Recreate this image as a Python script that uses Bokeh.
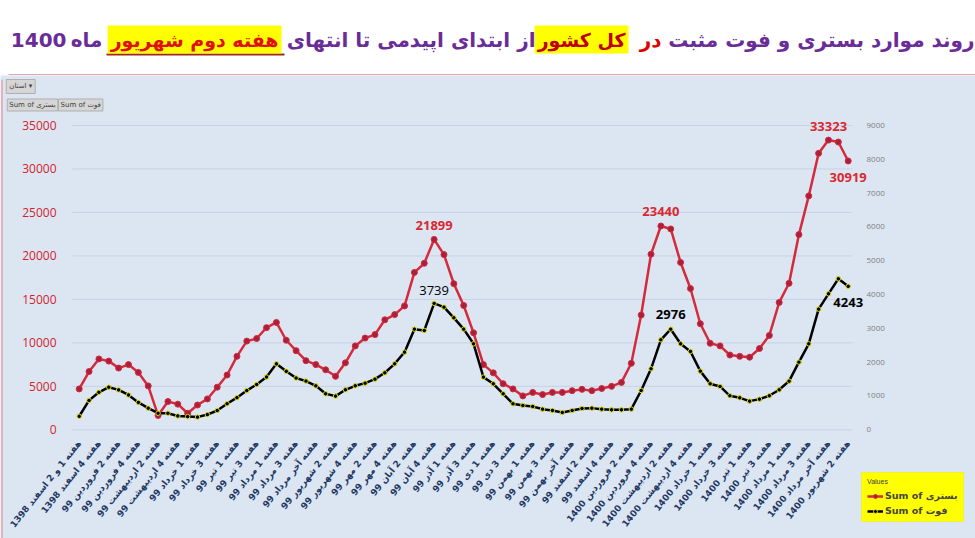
from bokeh.plotting import figure
from bokeh.models import Range1d, LinearAxis, FixedTicker, Label, Legend, LegendItem, AllLabels
from bokeh.layouts import column
from bokeh.embed import file_html
from bokeh.resources import INLINE

# ---------------- data ----------------
weeks = list(range(79))
hospitalized = [4700, 6700, 8150, 7900, 7100, 7500, 6600, 5050, 1650, 3250,
                2950, 1900, 2850, 3550, 4900, 6300, 8450, 10200, 10500, 11750,
                12350, 10300, 9100, 7950, 7500, 6900, 6150, 7700, 9650, 10550,
                10950, 12650, 13250, 14250, 18100, 19150, 21899, 20150, 16800, 14300,
                11150, 7500, 6550, 5300, 4700, 3900, 4300, 4050, 4300, 4300,
                4500, 4650, 4500, 4750, 5000, 5450, 7650, 13200, 20200, 23440,
                23100, 19250, 16250, 12200, 9950, 9650, 8600, 8450, 8350, 9350,
                10850, 14650, 16850, 22450, 26900, 31800, 33323, 33100, 30919]
deaths = [400, 870, 1110, 1260, 1180, 1030, 810, 640, 490, 490,
          410, 390, 375, 450, 570, 770, 950, 1160, 1340, 1560,
          1950, 1730, 1530, 1440, 1300, 1065, 996, 1183, 1301, 1380,
          1498, 1686, 1952, 2297, 2977, 2938, 3739, 3628, 3312, 2977,
          2543, 1558, 1360, 1065, 769, 720, 690, 611, 572, 513,
          572, 631, 641, 611, 591, 591, 611, 1163, 1804, 2662,
          2976, 2543, 2317, 1735, 1360, 1282, 1006, 946, 848, 907,
          1006, 1183, 1439, 2001, 2543, 3569, 4022, 4466, 4243]
tick_idx = list(range(0, 79, 2))
tick_labels = [
    "هفته 1 و 2 اسفند 1398", "هفته 4 اسفند 1398", "هفته 2 فروردین 99", "هفته 4 فروردین 99",
    "هفته 2 اردیبهشت 99", "هفته 4 اردیبهشت 99", "هفته 1 خرداد 99", "هفته 3 خرداد 99",
    "هفته 1 تیر 99", "هفته 3 تیر 99", "هفته 1 مرداد 99", "هفته 3 مرداد 99",
    "هفته آخر مرداد 99", "هفته 2 شهریور 99", "هفته 4 شهریور 99", "هفته 2 مهر 99",
    "هفته 4 مهر 99", "هفته 2 آبان 99", "هفته 4 آبان 99", "هفته 1 آذر 99",
    "هفته 3 آذر 99", "هفته 1 دی 99", "هفته 3 دی 99", "هفته 1 بهمن 99",
    "هفته 3 بهمن 99", "هفته آخر بهمن 99", "هفته 2 اسفند 99", "هفته 4 اسفند 99",
    "هفته 2 فروردین 1400", "هفته 4 فروردین 1400", "هفته 2 اردیبهشت 1400", "هفته 4 اردیبهشت 1400",
    "هفته 1 خرداد 1400", "هفته 3 خرداد 1400", "هفته 1 تیر 1400", "هفته 3 تیر 1400",
    "هفته 1 مرداد 1400", "هفته 3 مرداد 1400", "هفته آخر مرداد 1400", "هفته 2 شهریور 1400",
]
left_ticks = [0, 5000, 10000, 15000, 20000, 25000, 30000, 35000]
right_ticks = [0, 1000, 2000, 3000, 4000, 5000, 6000, 7000, 8000, 9000]
# annotated points: (index, offset px)
hosp_notes = [(36, 14), (59, 15), (76, 14), (78, -17)]
death_notes = [(36, 13, "normal"), (60, 15, "bold"), (78, -16, "bold")]

BG = "#DCE6F2"
PURPLE = "#6A2C97"
RED = "#D42A3C"
AR_FONT = "DejaVu Sans"

# ---------------- title strip ----------------
t = figure(width=975, height=75, x_range=Range1d(0, 975), y_range=Range1d(0, 75),
           output_backend="svg", toolbar_location=None, min_border=0,
           x_axis_type=None, y_axis_type=None, background_fill_color="white",
           border_fill_color="white", outline_line_color=None)
segs = [
    ("روند موارد بستری و فوت مثبت", 974, PURPLE, None, "20px"),
    ("در", 661, "#E00000", None, "20px"),
    ("کل کشور", 628, "#C00000", "#FFFF00", "19px"),
    ("از ابتدای اپیدمی تا انتهای", 535, PURPLE, None, "20px"),
    ("هفته دوم شهریور", 281, "#E01010", "#FFFF00", "19px"),
    ("ماه", 102, PURPLE, None, "20px"),
    ("1400", 66, PURPLE, None, "20px"),
]
for txt, xr, col, bg, fs in segs:
    lab = Label(x=xr, y=36, text=txt, text_align="right", text_baseline="middle",
                text_color=col, text_font=AR_FONT, text_font_style="bold",
                text_font_size=fs)
    if bg:
        lab.background_fill_color = bg
        lab.padding = 3
    t.add_layout(lab)
t.segment(x0=[106], y0=[21], x1=[284], y1=[21], line_color="#A02818", line_width=2)
t.segment(x0=[8], y0=[0.8], x1=[975], y1=[0.8], line_color="#E3A3AB", line_width=1.5)

# ---------------- chart (frame = whole chart area) ----------------
kx = 769 / 78            # px per week
ky = 35000 / 304.3       # value per px
x_start = -78.7 / kx
y_start = -(463 - 354.3) * ky
y_end = 354.3 * ky
p = figure(width=975, height=463,
           x_range=Range1d(x_start, x_start + 975 / kx),
           y_range=Range1d(y_start, y_end),
           output_backend="svg", toolbar_location=None, min_border=0,
           background_fill_color=BG, border_fill_color=BG, outline_line_color=None)
p.extra_y_ranges = {"right": Range1d(y_start * 9000 / 35000, y_end * 9000 / 35000)}
x_left, x_right = -0.68, 78.44   # plot-area edges in week units

xa = p.xaxis[0]
xa.fixed_location = 0
xa.ticker = FixedTicker(ticks=tick_idx)
xa.major_label_overrides = {i: s for i, s in zip(tick_idx, tick_labels)}
xa.major_label_orientation = 0.9
xa.major_label_policy = AllLabels()
xa.major_label_text_font = AR_FONT
xa.major_label_text_font_style = "bold"
xa.major_label_text_font_size = "9px"
xa.major_label_text_color = "#1F3864"
xa.major_label_standoff = 6
xa.axis_line_color = None
xa.major_tick_line_color = None
xa.minor_tick_line_color = None

ya = p.yaxis[0]
ya.fixed_location = x_left
ya.ticker = FixedTicker(ticks=left_ticks)
ya.major_label_text_color = "#D2232A"
ya.major_label_text_font = "Open Sans"
ya.major_label_text_font_size = "12px"
ya.major_label_standoff = 10
ya.axis_line_color = None
ya.major_tick_line_color = None
ya.minor_tick_line_color = None

ra = LinearAxis(y_range_name="right", ticker=FixedTicker(ticks=right_ticks), fixed_location=x_right)
ra.major_label_text_color = "#808080"
ra.major_label_text_font = "Open Sans"
ra.major_label_text_font_size = "8px"
ra.major_label_standoff = 8
ra.axis_line_color = None
ra.major_tick_line_color = None
ra.minor_tick_line_color = None
p.add_layout(ra, "right")

p.xgrid.visible = False
p.ygrid.visible = False
p.segment(x0=[x_left] * len(left_ticks), y0=left_ticks, x1=[x_right] * len(left_ticks),
          y1=left_ticks, line_color="#C6D3E5", line_width=1)
# chart-area border (left edge)
p.segment(x0=[-7.83], y0=[y_start], x1=[-7.83], y1=[y_end - 4 * ky], line_color="#E3A3AB", line_width=1.5)

rl = p.line(weeks, hospitalized, line_color=RED, line_width=2.5)
rs = p.scatter(weeks, hospitalized, size=6, fill_color="#A8203C", line_color=RED)
bl = p.line(weeks, deaths, y_range_name="right", line_color="black", line_width=2.5)
bs = p.scatter(weeks, deaths, y_range_name="right", size=4.5, fill_color="black",
               line_color="#E0E000", line_width=1)

for i, off in hosp_notes:
    p.add_layout(Label(x=i, y=hospitalized[i], text=str(hospitalized[i]), y_offset=off,
                       text_align="center", text_baseline="middle", text_color="#DA2832",
                       text_font="Open Sans", text_font_style="bold", text_font_size="13px"))
for i, off, st in death_notes:
    p.add_layout(Label(x=i, y=deaths[i], y_range_name="right", text=str(deaths[i]), y_offset=off,
                       text_align="center", text_baseline="middle", text_color="black",
                       text_font="Open Sans", text_font_style=st, text_font_size="13px"))

# pivot field buttons (top-left)
btns = [("استان ▾", -7.4, 39486, 3), ("Sum of بستری", -7.3, 37358, 2), ("Sum of فوت", -2.1, 37358, 2)]
for txt, bx, by, pad in btns:
    p.add_layout(Label(x=bx, y=by, text=txt, text_align="left", text_baseline="middle",
                       text_font=AR_FONT, text_font_size="7px", text_color="#404040",
                       background_fill_color="#D6D6D6", border_line_color="#B0B0B0", padding=pad))

legend = Legend(items=[LegendItem(label="Sum of بستری", renderers=[rl, rs]),
                       LegendItem(label="Sum of فوت", renderers=[bl, bs])],
                location=(861, 16), title="Values", title_text_font_size="7px",
                title_text_color="#404040", title_text_font_style="normal",
                label_text_font=AR_FONT, label_text_font_style="bold",
                label_text_font_size="9.5px", glyph_width=16, glyph_height=10,
                label_standoff=2, spacing=4, padding=5, margin=0,
                background_fill_color="#FFFF00", background_fill_alpha=1.0,
                border_line_color="#E0E080")
p.add_layout(legend)

layout = column(t, p, spacing=0)
open("out.html", "w").write(file_html(layout, INLINE))
